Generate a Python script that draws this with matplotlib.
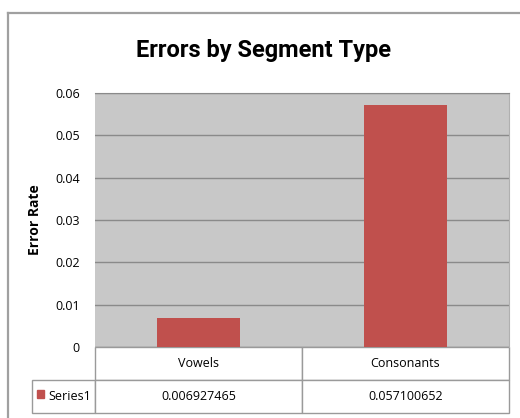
import matplotlib
matplotlib.use("Agg")
import matplotlib.pyplot as plt
from matplotlib.patches import Rectangle
from matplotlib.lines import Line2D

categories = ["Vowels", "Consonants"]
error_rate = [0.006927465, 0.057100652]
series_name = "Series1"
yticks = [0, 0.01, 0.02, 0.03, 0.04, 0.05, 0.06]
ytick_labels = ["0", "0.01", "0.02", "0.03", "0.04", "0.05", "0.06"]

plt.rcParams["font.family"] = ["Open Sans", "DejaVu Sans"]

W, H = 520, 418
fig = plt.figure(figsize=(W / 100, H / 100), dpi=100)

# outer chart border: only top and left edges show in the crop
fig.lines.append(Line2D([8 / W, 1], [1 - 13 / H, 1 - 13 / H], transform=fig.transFigure,
                        color="#a0a0a0", linewidth=1.6))
fig.lines.append(Line2D([8 / W, 8 / W], [0, 1 - 13 / H], transform=fig.transFigure,
                        color="#a0a0a0", linewidth=1.6))

ax = fig.add_axes([95 / W, (H - 347) / H, (509 - 95) / W, (347 - 93) / H])
ax.set_facecolor("#c8c8c8")

x = range(len(categories))
ax.bar(x, error_rate, width=0.4, color="#c0504d", zorder=3)
ax.set_xlim(-0.5, len(categories) - 0.5)
ax.set_ylim(0, 0.06)
ax.set_yticks(yticks)
ax.set_yticklabels(ytick_labels, fontsize=9)
ax.set_xticks([])
ax.tick_params(axis="y", length=0, pad=11)
ax.yaxis.grid(True, color="#8a8a8a", linewidth=1.0, zorder=1)
ax.set_axisbelow(True)
for s in ["left", "bottom"]:
    ax.spines[s].set_visible(False)
ax.spines["top"].set_color("#8a8a8a")
ax.spines["right"].set_color("#b0b0b0")

ax.set_ylabel("Error Rate", fontsize=10, fontweight="bold")
ax.yaxis.set_label_coords(-0.127, 0.5)

fig.text(263 / W, 1 - 50 / H, "Errors by Segment Type", ha="center", va="center",
         fontsize=17, fontweight="bold", family=["Roboto", "DejaVu Sans"])

# data table below the plot: first column holds the series name
label_w = 63 / 414
rows = [[""] + categories,
        [series_name] + ["%.9f" % v for v in error_rate]]
tbl = ax.table(cellText=rows, colWidths=[63, 207, 207], cellLoc="center",
               bbox=[-label_w, -66 / 254, 1 + label_w, 66 / 254])
tbl.auto_set_font_size(False)
tbl.set_fontsize(9)
for (r, c), cell in tbl.get_celld().items():
    cell.set_edgecolor("#9a9a9a")
    cell.set_linewidth(1.0)
    cell.set_facecolor("white")
tbl[0, 0].set_visible(False)
tbl[1, 0].PAD = 0.06
tbl[1, 0].get_text().set_ha("right")
tbl[1, 0]._loc = "right"

# legend key in front of the series name
ax.add_patch(Rectangle((-label_w + 5 / 414, -51 / 254), 7 / 414, 8 / 254,
                       transform=ax.transAxes, color="#c0504d", clip_on=False, zorder=5))

fig.savefig("out.png", dpi=100)
